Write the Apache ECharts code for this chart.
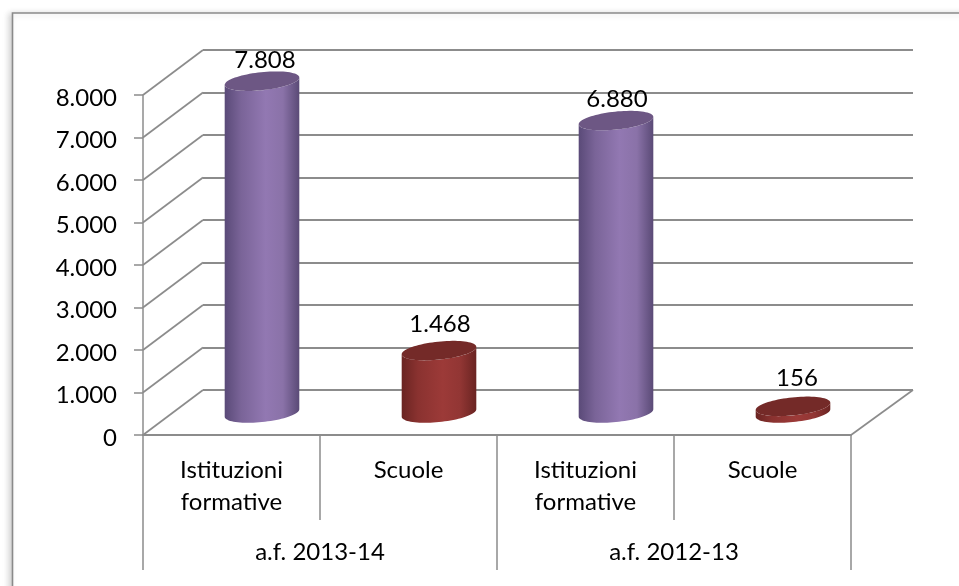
<!DOCTYPE html>
<html>
<head>
<meta charset="utf-8">
<style>html,body{margin:0;padding:0;background:#fff}#c{width:959px;height:586px}</style>
<script src="https://cdn.jsdelivr.net/npm/echarts@6/dist/echarts.min.js"></script>
</head>
<body>
<div id="c"></div>
<script>
const categories = ["Istituzioni\nformative", "Scuole", "Istituzioni\nformative", "Scuole"];
const groups = ["a.f. 2013-14", "a.f. 2012-13"];
const values = [7808, 1468, 6880, 156];
const valueLabels = ["7.808", "1.468", "6.880", "156"];
const yTicks = [0, 1000, 2000, 3000, 4000, 5000, 6000, 7000, 8000];

const FONT = 'Lato, "Open Sans", sans-serif';
const FS = 24;
const GREY = '#8c8c8c';
const DEPTH_X = 60, DEPTH_Y = 45;
const A = 37.5, B = 9, TH = 6 * Math.PI / 180;
const labelNudge = [[3, -21], [1, -26.5], [1, -21], [4, -28.5]];
const palette = [
  { side: ['#5a4a78', '#7a6498', '#9278b2', '#8a72a8', '#5a4a76'], top: '#6d5784' },
  { side: ['#6a2422', '#8a3230', '#9c3a38', '#923634', '#6a2422'], top: '#742a28' }
];
function ell(cx, cy, t) {
  return [
    cx + A * Math.cos(t) * Math.cos(TH) + B * Math.sin(t) * Math.sin(TH),
    cy - A * Math.cos(t) * Math.sin(TH) + B * Math.sin(t) * Math.cos(TH)
  ];
}
const T0 = Math.atan2(B * Math.sin(TH), A * Math.cos(TH));
function arc(cx, cy, from, to, n) {
  const out = [];
  for (let i = 0; i <= n; i++) out.push(ell(cx, cy, from + (to - from) * i / n));
  return out;
}

const chart = echarts.init(document.getElementById('c'), null, { renderer: 'canvas' });
chart.setOption({
  animation: false,
  backgroundColor: '#fff',
  textStyle: { fontFamily: FONT },
  graphic: [{
    type: 'rect', z: -1, silent: true,
    shape: { x: 12.5, y: 13, width: 1000, height: 1000 },
    style: { fill: '#fff', stroke: '#8a8a8a', lineWidth: 1.6, shadowBlur: 6, shadowColor: 'rgba(0,0,0,0.18)', shadowOffsetX: -3, shadowOffsetY: 1 }
  }],
  grid: [
    { left: 143, width: 708, top: 95, height: 340 },
    { left: 203, width: 710, top: 50, height: 340 }
  ],
  xAxis: [
    {
      type: 'category', gridIndex: 0, data: categories, position: 'bottom',
      axisLine: { show: true, lineStyle: { color: GREY, width: 2 } },
      axisTick: { show: true, length: 85, lineStyle: { color: GREY, width: 1.5 } },
      axisLabel: { interval: 0, margin: 19, color: '#000', fontSize: FS, lineHeight: 32, fontFamily: FONT }
    },
    {
      type: 'category', gridIndex: 0, data: groups, position: 'bottom',
      axisLine: { show: false },
      axisTick: { show: true, length: 135, lineStyle: { color: GREY, width: 1.5 } },
      axisLabel: { interval: 0, margin: 105, color: '#000', fontSize: FS, fontFamily: FONT }
    },
    { type: 'category', gridIndex: 1, data: categories, show: false }
  ],
  yAxis: [
    {
      type: 'value', gridIndex: 0, min: 0, max: 8000, interval: 1000,
      axisLine: { show: true, lineStyle: { color: GREY, width: 1.5 } },
      axisTick: { show: true, length: 9, lineStyle: { color: GREY, width: 1.5 } },
      splitLine: { show: false },
      axisLabel: {
        margin: 26, color: '#000', fontSize: FS, fontFamily: FONT, verticalAlign: 'top', lineHeight: 6,
        formatter: v => v === 0 ? '0' : (v / 1000) + '.000'
      }
    },
    {
      type: 'value', gridIndex: 1, min: 0, max: 8000, interval: 1000,
      axisLine: { show: false }, axisTick: { show: false }, axisLabel: { show: false },
      splitLine: { show: true, lineStyle: { color: GREY, width: 1.8 } }
    }
  ],
  series: [
    {
      type: 'custom', xAxisIndex: 0, yAxisIndex: 0, silent: true, clip: false, z: 1,
      data: yTicks.map(v => [0, v]),
      renderItem(params, api) {
        const y = api.coord([0, api.value(1)])[1];
        const cs = params.coordSys;
        const ls = { stroke: GREY, lineWidth: 1.7, fill: null };
        const children = [{
          type: 'line',
          shape: { x1: cs.x, y1: y, x2: cs.x + DEPTH_X, y2: y - DEPTH_Y },
          style: ls
        }];
        if (api.value(1) === 0) {
          children.push({
            type: 'line',
            shape: { x1: cs.x + cs.width, y1: y, x2: cs.x + cs.width + 62, y2: y - DEPTH_Y },
            style: ls
          });
        }
        return { type: 'group', children };
      },
      encode: { x: 0, y: 1 }
    },
    {
      type: 'custom', xAxisIndex: 0, yAxisIndex: 0, silent: true, clip: false, z: 3,
      data: values.map((v, i) => [i, v]),
      renderItem(params, api) {
        const i = api.value(0), v = api.value(1);
        const base = api.coord([i, 0]);
        const topP = api.coord([i, v]);
        const cx = base[0] + 30.5;
        const by = base[1] - 22, ty = topP[1] - 22;
        const pal = palette[i % 2];
        const stops = [0, 0.22, 0.55, 0.78, 1].map((o, k) => ({ offset: o, color: pal.side[k] }));
        const bodyPts = arc(cx, by, T0, T0 + Math.PI, 40).concat(arc(cx, ty, T0 + Math.PI, T0, 40));
        const topPts = arc(cx, ty, 0, Math.PI * 2, 80);
        return {
          type: 'group',
          children: [
            { type: 'polygon', shape: { points: bodyPts },
              style: { fill: new echarts.graphic.LinearGradient(0, 0, 1, 0, stops) } },
            { type: 'polygon', shape: { points: topPts }, style: { fill: pal.top } },
            { type: 'text', z2: 10,
              style: {
                text: valueLabels[i],
                x: cx + labelNudge[i][0], y: ty + labelNudge[i][1],
                align: 'center', verticalAlign: 'middle',
                font: FS + 'px ' + FONT, fill: '#000'
              } }
          ]
        };
      },
      encode: { x: 0, y: 1 }
    }
  ]
});
</script>
</body>
</html>
